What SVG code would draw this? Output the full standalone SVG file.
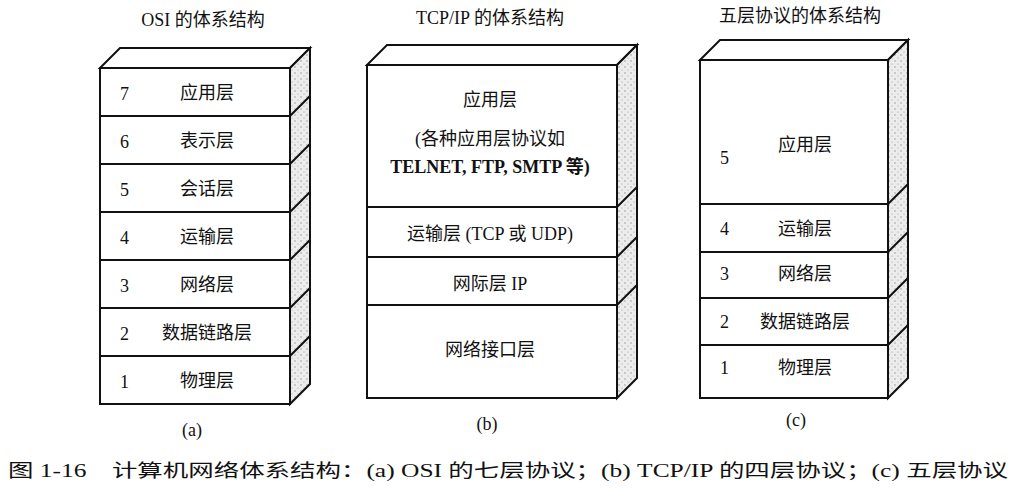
<svg xmlns="http://www.w3.org/2000/svg" width="1018" height="502" viewBox="0 0 1018 502">
<style>
text{font-family:"Liberation Serif","Noto Sans CJK SC",serif;font-size:18px;fill:#111}
.c{text-anchor:middle}
.f{fill:#fff;stroke:#111;stroke-width:2}
.s{fill:url(#dots);stroke:#111;stroke-width:2}
.l{stroke:#111;stroke-width:2;fill:none}
</style>
<defs>
<pattern id="dots" width="6" height="6" patternUnits="userSpaceOnUse">
<rect width="6" height="6" fill="#ececec"/>
<circle cx="1" cy="1" r="0.7" fill="#888"/><circle cx="4" cy="4" r="0.6" fill="#999"/>
</pattern>
</defs>
<rect width="1018" height="502" fill="#fff"/>
<text class="c" x="203" y="26">OSI 的体系结构</text>
<text class="c" x="490" y="24">TCP/IP 的体系结构</text>
<text class="c" x="800" y="22">五层协议的体系结构</text>
<g id="stackA">
<polygon class="f" points="100,68 120,48 310,48 290,68"/>
<polygon class="s" points="290,68 310,48 310,384 290,404"/>
<rect class="f" x="100" y="68" width="190" height="336"/>
<path class="l" d="M100,116H290l20,-20M100,164H290l20,-20M100,212H290l20,-20M100,260H290l20,-20M100,308H290l20,-20M100,356H290l20,-20"/>
<text x="120" y="100">7</text><text class="c" x="207" y="99">应用层</text>
<text x="120" y="148">6</text><text class="c" x="207" y="147">表示层</text>
<text x="120" y="196">5</text><text class="c" x="207" y="195">会话层</text>
<text x="120" y="244">4</text><text class="c" x="207" y="243">运输层</text>
<text x="120" y="292">3</text><text class="c" x="207" y="291">网络层</text>
<text x="120" y="340">2</text><text class="c" x="207" y="339">数据链路层</text>
<text x="120" y="388">1</text><text class="c" x="207" y="387">物理层</text>
</g>
<g id="stackB">
<polygon class="f" points="367,65 387,45 637,45 617,65"/>
<polygon class="s" points="617,65 637,45 637,378 617,398"/>
<rect class="f" x="367" y="65" width="250" height="333"/>
<path class="l" d="M367,207H617l20,-20M367,257H617l20,-20M367,305H617l20,-20"/>
<text class="c" x="490" y="106">应用层</text>
<text class="c" x="490" y="145">(各种应用层协议如</text>
<text class="c" x="490" y="173" font-weight="bold">TELNET, FTP, SMTP 等)</text>
<text class="c" x="490" y="240">运输层 (TCP 或 UDP)</text>
<text class="c" x="490" y="290">网际层 IP</text>
<text class="c" x="490" y="356">网络接口层</text>
</g>
<g id="stackC">
<polygon class="f" points="700,60 720,40 908,40 888,60"/>
<polygon class="s" points="888,60 908,40 908,378 888,398"/>
<rect class="f" x="700" y="60" width="188" height="338"/>
<path class="l" d="M700,204H888l20,-20M700,252H888l20,-20M700,298H888l20,-20M700,345H888l20,-20"/>
<text x="720" y="164">5</text><text class="c" x="805" y="151">应用层</text>
<text x="720" y="235">4</text><text class="c" x="805" y="235">运输层</text>
<text x="720" y="280">3</text><text class="c" x="805" y="280">网络层</text>
<text x="720" y="328">2</text><text class="c" x="805" y="328">数据链路层</text>
<text x="720" y="374">1</text><text class="c" x="805" y="374">物理层</text>
</g>
<text class="c" x="192" y="436">(a)</text>
<text class="c" x="487" y="430">(b)</text>
<text class="c" x="796" y="426">(c)</text>
<text x="8" y="477" font-size="21" xml:space="preserve" textLength="1000" lengthAdjust="spacingAndGlyphs">图 1-16    计算机网络体系结构：(a) OSI 的七层协议；(b) TCP/IP 的四层协议；(c) 五层协议</text>
</svg>
